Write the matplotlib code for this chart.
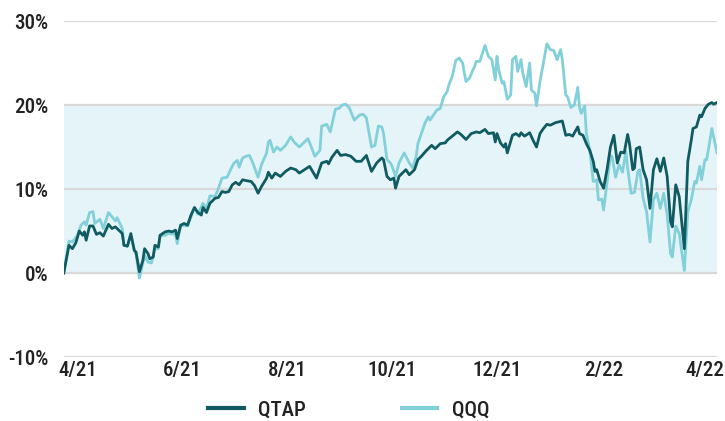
import numpy as np
import pandas as pd
import matplotlib
matplotlib.use("Agg")
from matplotlib import pyplot as plt
from matplotlib import font_manager

# days since 2021-04-01 and cumulative return in %
qtap_days = [-8, -5, -3, -1, 1, 3, 4, 5, 7, 9, 11, 13, 15, 18, 20, 22, 23, 26, 27, 29,
             31, 33, 34, 36, 38, 39, 41, 42, 44, 45, 47, 48, 51, 53, 55, 57, 58, 60, 62, 64,
             66, 68, 70, 72, 73, 75, 77, 80, 82, 84, 86, 88, 90, 92, 94, 96, 98, 101, 103, 105,
             107, 110, 111, 113, 115, 118, 121, 124, 127, 129, 132, 135, 139, 142, 145, 146, 148, 151, 153, 156,
             159, 162, 165, 168, 171, 174, 177, 178, 180, 182, 184, 185, 187, 189, 191, 193, 196, 198, 200, 203,
             206, 208, 211, 214, 215, 218, 221, 223, 226, 229, 232, 234, 237, 239, 242, 243, 244, 246, 248, 249,
             250, 253, 255, 257, 258, 260, 263, 265, 267, 269, 271, 273, 275, 278, 282, 284, 286, 288, 291, 292,
             294, 296, 298, 300, 301, 302, 304, 306, 308, 310, 312, 314, 316, 318, 320, 321, 323, 324, 325, 327,
             329, 331, 333, 335, 337, 339, 341, 343, 345, 346, 348, 350, 353, 355, 357, 358, 360, 362, 363, 365,
             367, 369, 370, 372]
qtap_vals = [0.0, 3.3, 2.9, 3.6, 5.0, 4.5, 4.9, 3.9, 5.6, 5.6, 4.6, 4.8, 4.4, 5.8, 5.3, 5.5, 5.3, 4.7, 3.3, 3.2,
             4.7, 2.7, 2.5, 0.15, 1.5, 2.9, 2.3, 1.7, 1.9, 3.3, 3.1, 4.5, 4.9, 5.0, 4.9, 5.1, 4.1, 5.7, 5.9, 5.7,
             6.9, 7.8, 7.2, 6.9, 7.8, 7.2, 8.3, 8.9, 9.0, 9.7, 9.6, 9.7, 10.5, 10.8, 10.5, 11.1, 11.0, 10.9, 10.4, 9.5,
             10.3, 11.3, 12.0, 11.3, 11.9, 11.5, 12.1, 12.5, 12.3, 11.9, 12.3, 12.7, 11.3, 13.1, 13.3, 13.0, 13.8, 14.6, 14.0, 14.1,
             13.9, 13.3, 13.3, 14.0, 12.1, 13.1, 13.7, 13.5, 11.5, 11.1, 11.3, 10.1, 11.5, 11.9, 12.3, 11.7, 12.3, 13.5, 13.9, 14.6,
             15.2, 14.8, 15.4, 15.5, 15.8, 16.3, 16.8, 16.5, 15.9, 16.6, 16.8, 16.7, 17.1, 16.6, 16.7, 15.6, 16.6, 15.5, 15.0, 15.4,
             14.3, 16.4, 16.6, 16.3, 16.7, 16.3, 16.7, 15.8, 15.0, 16.6, 17.2, 17.7, 17.6, 17.9, 18.1, 16.4, 16.5, 16.3, 17.4, 16.6,
             16.4, 15.4, 14.6, 13.3, 12.1, 12.3, 10.9, 10.1, 12.3, 15.0, 16.4, 13.1, 14.4, 14.3, 16.5, 15.5, 12.3, 12.5, 14.8, 15.0,
             12.3, 11.1, 7.7, 12.3, 13.6, 12.1, 13.7, 11.5, 6.1, 5.5, 10.5, 9.1, 2.9, 13.3, 15.8, 17.2, 17.4, 18.8, 18.6, 19.6,
             20.1, 20.3, 20.1, 20.3]

qqq_days = [-8, -5, -3, 0, 2, 4, 5, 7, 9, 10, 13, 15, 18, 20, 22, 23, 26, 27, 29, 31,
            33, 34, 36, 38, 39, 41, 43, 45, 47, 48, 51, 53, 57, 58, 60, 64, 66, 68, 70, 73,
            75, 77, 80, 82, 84, 87, 89, 91, 93, 94, 96, 98, 100, 102, 105, 107, 110, 111, 112, 114,
            116, 118, 121, 124, 126, 129, 131, 134, 136, 138, 141, 142, 145, 147, 150, 152, 154, 156, 158, 161,
            164, 166, 168, 171, 173, 175, 177, 178, 180, 182, 183, 185, 187, 190, 193, 195, 197, 198, 200, 202,
            204, 205, 207, 209, 211, 213, 215, 216, 218, 220, 222, 224, 225, 226, 228, 230, 231, 232, 234, 237,
            239, 241, 243, 244, 245, 247, 248, 250, 252, 253, 255, 256, 258, 259, 261, 263, 264, 266, 267, 269,
            271, 273, 275, 277, 279, 281, 282, 284, 285, 287, 289, 291, 292, 293, 295, 296, 298, 300, 302, 303,
            305, 306, 308, 310, 311, 313, 315, 317, 319, 320, 322, 324, 326, 327, 329, 331, 333, 335, 337, 339,
            341, 343, 345, 346, 348, 350, 353, 355, 357, 359, 360, 362, 363, 365, 366, 369, 372]
qqq_vals = [0.0, 3.8, 3.7, 4.5, 5.7, 6.1, 5.7, 7.2, 7.3, 5.9, 6.4, 5.3, 7.2, 6.7, 6.2, 6.6, 5.3, 3.3, 3.2, 4.5,
            2.7, 2.3, -0.6, 1.2, 2.1, 1.3, 1.2, 2.9, 2.9, 4.4, 4.5, 4.7, 4.6, 3.5, 5.7, 5.6, 6.7, 7.8, 7.0, 8.3,
            7.6, 9.2, 9.1, 10.1, 11.3, 11.4, 12.3, 13.1, 13.4, 12.6, 13.7, 13.9, 14.0, 13.1, 11.4, 12.9, 14.3, 15.6, 15.8, 14.4,
            15.0, 14.6, 15.2, 16.2, 15.6, 15.0, 15.4, 16.0, 15.0, 13.9, 14.6, 17.5, 17.7, 16.8, 19.5, 19.6, 20.0, 20.1, 19.7, 18.2,
            18.8, 18.9, 18.5, 15.0, 15.2, 17.5, 17.4, 16.6, 13.5, 13.1, 12.7, 11.5, 13.1, 14.3, 13.1, 12.5, 13.9, 15.4, 16.6, 17.8,
            18.6, 18.2, 18.8, 19.4, 19.6, 21.0, 21.6, 22.4, 23.4, 25.3, 25.6, 25.0, 23.8, 22.8, 23.2, 24.2, 24.6, 25.2, 25.2, 27.1,
            25.8, 25.4, 23.0, 25.8, 24.2, 22.6, 22.8, 20.7, 21.2, 25.4, 25.8, 24.0, 25.4, 23.8, 22.2, 25.0, 21.8, 21.4, 19.9, 22.8,
            25.0, 27.3, 26.6, 26.5, 25.4, 26.6, 25.4, 21.2, 21.0, 19.7, 20.0, 22.1, 19.7, 19.0, 19.9, 16.6, 14.6, 10.9, 11.1, 8.7,
            8.8, 7.5, 10.7, 14.0, 13.8, 11.4, 12.9, 12.0, 14.5, 12.5, 9.5, 9.6, 12.1, 12.3, 8.9, 7.3, 3.7, 8.7, 9.5, 7.7,
            9.5, 6.9, 2.3, 1.9, 5.6, 4.7, 0.3, 7.3, 8.7, 10.9, 10.7, 12.7, 11.1, 13.5, 13.5, 17.2, 14.3]

tick_dates = ["2021-04-01", "2021-06-01", "2021-08-01", "2021-10-01",
              "2021-12-01", "2022-02-01", "2022-04-01"]
tick_labels = ["4/21", "6/21", "8/21", "10/21", "12/21", "2/22", "4/22"]
y_ticks = [-10, 0, 10, 20, 30]
y_labels = ["-10%", "0%", "10%", "20%", "30%"]

base = pd.Timestamp("2021-04-01")
qtap_x = base + pd.to_timedelta(qtap_days, unit="D")
qqq_x = base + pd.to_timedelta(qqq_days, unit="D")

# pick a narrow face if there is one
installed = set(f.name for f in font_manager.fontManager.ttflist)
fam = 'Roboto'
fsize = 13.5
for cand in ['Roboto Condensed', 'Liberation Sans Narrow', 'DejaVu Sans Condensed', 'Open Sans Condensed']:
    if cand in installed:
        fam = cand
        fsize = 15
        break
plt.rcParams['font.family'] = [fam, 'DejaVu Sans']

fig = plt.figure(figsize=(7.25, 4.21), dpi=100)
ax = fig.add_axes([0.088, 0.152, 0.901, 0.798])

ax.axhspan(0, 20, color='#e5f4f8', zorder=0, lw=0)
for yv in y_ticks:
    ax.axhline(yv, color='#d9d9d9', lw=1.6, zorder=1)

ax.plot(qqq_x, qqq_vals, color='#82d0d9', lw=2.0, label='QQQ', zorder=2)
ax.plot(qtap_x, qtap_vals, color='#0f5b61', lw=2.0, label='QTAP', zorder=3)

ax.set_ylim(-10, 30)
ax.set_xlim(qtap_x[0], qtap_x[-1])
ax.set_yticks(y_ticks)
ax.set_yticklabels(y_labels)
ax.set_xticks(pd.to_datetime(tick_dates))
ax.set_xticklabels(tick_labels)
ax.tick_params(axis='both', length=0, labelsize=fsize, colors='#222222')
ax.tick_params(axis='y', pad=11)
ax.tick_params(axis='x', pad=3)
for lab in ax.get_xticklabels() + ax.get_yticklabels():
    lab.set_fontweight('medium')
for s in ax.spines.values():
    s.set_visible(False)

h, l = ax.get_legend_handles_labels()
leg = fig.legend([h[1], h[0]], [l[1], l[0]], loc='center', bbox_to_anchor=(0.481, 0.026),
                 ncol=2, frameon=False, fontsize=fsize, handlelength=1.7,
                 columnspacing=4.6, handletextpad=0.7)
for line in leg.get_lines():
    line.set_linewidth(3)
for t in leg.get_texts():
    t.set_color('#222222')
    t.set_fontweight('medium')

plt.savefig('out.png', dpi=100)
